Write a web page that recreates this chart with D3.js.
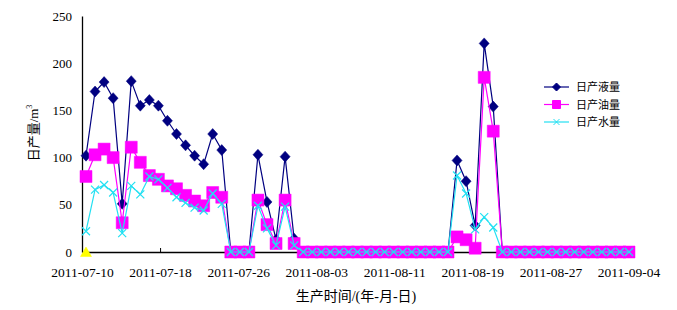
<!DOCTYPE html>
<html>
<head>
<meta charset="utf-8">
<script src="https://cdn.jsdelivr.net/npm/d3@7"></script>
<style>
body { margin: 0; background: #fff; }
</style>
</head>
<body>
<script>
// daily samples
var liquid = [102,170,180,163,51,181,155,161,155,139,125,113,102,93,125,108,0,0,0,103,53,13,101,14,
    0,0,0,0,0,0,0,0,0,0,0,0,0,0,0,0,0,97,75,28,221,154,0,0,0,0,0,0,0,0,0,0,0,0,0,0,0];
var oil = [80,103,109,100,31,111,95,81,77,70,67,60,54,49,63,58,0,0,0,55,29,9,55,9,
    0,0,0,0,0,0,0,0,0,0,0,0,0,0,0,0,0,16,13,4,185,128,0,0,0,0,0,0,0,0,0,0,0,0,0,0,0];
var water = [22,66,71,63,20,70,61,80,77,68,58,52,47,44,62,51,0,0,0,49,25,7,48,7,
    0,0,0,0,0,0,0,0,0,0,0,0,0,0,0,0,0,81,62,24,37,26,0,0,0,0,0,0,0,0,0,0,0,0,0,0,0];
var series3 = [0]; // lone yellow triangle, not in legend
var seriesNames = ["日产液量", "日产油量", "日产水量"];
var yTicks = [0, 50, 100, 150, 200, 250];
var xTickLabels = ["2011-07-10","2011-07-18","2011-07-26","2011-08-03","2011-08-11","2011-08-19","2011-08-27","2011-09-04"];

var width = 677, height = 310;
var navy = "#000080", magenta = "#FF00FF", cyan = "#22E0F2", yellow = "#FFFF00";
var serif = "'Liberation Serif', 'Times New Roman', 'DejaVu Serif', 'Noto Sans CJK SC', serif";

var svg = d3.select("body").append("svg")
    .attr("width", width)
    .attr("height", height)
    .style("font-family", serif);

var parse = d3.timeParse("%Y-%m-%d");
var tickDates = xTickLabels.map(parse);

var xTime = d3.scaleTime()
    .domain([tickDates[0], tickDates[tickDates.length - 1]])
    .range([82, 628.5]);
var xPoint = d3.scalePoint()
    .domain(d3.range(liquid.length))
    .range([86, 629]);
var y = d3.scaleLinear()
    .domain([0, 250])
    .range([252, 16]);

// axes
var yAxis = d3.axisLeft(y).tickValues(yTicks).tickSize(0).tickPadding(10);
var yG = svg.append("g").attr("transform", "translate(82,0)").call(yAxis);
yG.attr("font-family", null);
yG.select(".domain").attr("stroke", "#000").attr("stroke-width", 1.3);
yG.selectAll("text").style("font-family", serif).style("font-size", "13px").attr("fill", "#000");

var xAxis = d3.axisBottom(xTime)
    .tickValues(tickDates)
    .tickFormat(d3.timeFormat("%Y-%m-%d"))
    .tickSizeInner(-4).tickSizeOuter(0).tickPadding(15);
var xG = svg.append("g").attr("transform", "translate(0,252)").call(xAxis);
xG.attr("font-family", null);
xG.select(".domain").attr("stroke", "#000").attr("stroke-width", 1.3);
xG.selectAll(".tick line").attr("stroke", "#000");
xG.selectAll("text").style("font-family", serif).style("font-size", "13.5px").attr("fill", "#000");

// axis titles
svg.append("text")
    .attr("x", 356).attr("y", 301)
    .attr("text-anchor", "middle")
    .style("font-size", "14px")
    .text("生产时间/(年-月-日)");

var yTitle = svg.append("text")
    .attr("transform", "translate(38,133) rotate(-90)")
    .attr("text-anchor", "middle")
    .style("font-size", "13px");
yTitle.append("tspan").text("日产量/m");
yTitle.append("tspan").style("font-size", "8px").attr("dy", "-6").text("3");

var diamond = "M0,-5.5L5,0L0,5.5L-5,0Z";
var square = "M-6,-6H6V6H-6Z";
var triangle = "M0,-5L5.5,4.5H-5.5Z";
var cross = "M-4,-4L4,4M-4,4L4,-4";

var line = d3.line()
    .x(function(d, i) { return xPoint(i); })
    .y(function(d) { return y(d); });

function drawSeries(data, color, shape, filled) {
    var g = svg.append("g");
    if (data.length > 1) {
        g.append("path").datum(data)
            .attr("d", line)
            .attr("fill", "none")
            .attr("stroke", color)
            .attr("stroke-width", 1.2);
    }
    g.selectAll("path.mk").data(data).enter().append("path")
        .attr("class", "mk")
        .attr("d", shape)
        .attr("transform", function(d, i) { return "translate(" + xPoint(i) + "," + y(d) + ")"; })
        .attr("fill", filled ? color : "none")
        .attr("stroke", color)
        .attr("stroke-width", filled ? 0.5 : 1.2);
}

drawSeries(liquid, navy, diamond, true);
drawSeries(oil, magenta, square, true);
drawSeries(series3, yellow, triangle, true);
drawSeries(water, cyan, cross, false);

// legend
var legend = [
    {name: seriesNames[0], color: navy, shape: "M0,-4L4,0L0,4L-4,0Z", filled: true},
    {name: seriesNames[1], color: magenta, shape: "M-4,-4H4V4H-4Z", filled: true},
    {name: seriesNames[2], color: cyan, shape: "M-3,-3L3,3M-3,3L3,-3", filled: false}
];
var lg = svg.append("g").selectAll("g").data(legend).enter().append("g")
    .attr("transform", function(d, i) { return "translate(544," + (87 + i * 17.5) + ")"; });
lg.append("line").attr("x1", 0).attr("x2", 25)
    .attr("stroke", function(d) { return d.color; }).attr("stroke-width", 1.2);
lg.append("path").attr("d", function(d) { return d.shape; })
    .attr("transform", "translate(12.5,0)")
    .attr("fill", function(d) { return d.filled ? d.color : "none"; })
    .attr("stroke", function(d) { return d.color; });
lg.append("text").attr("x", 32).attr("y", 4)
    .style("font-size", "11px")
    .text(function(d) { return d.name; });
</script>
</body>
</html>
